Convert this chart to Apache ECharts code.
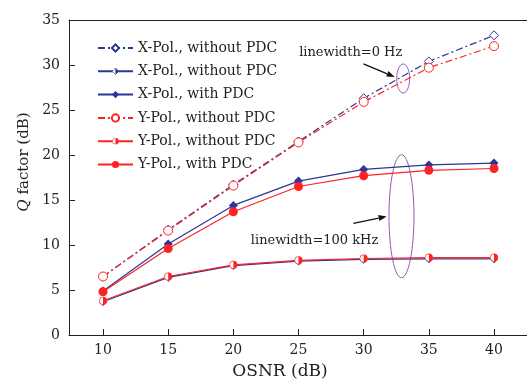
<!DOCTYPE html>
<html>
<head>
<meta charset="utf-8">
<script src="https://cdn.jsdelivr.net/npm/echarts@6/dist/echarts.min.js"></script>
<style>
  html, body { margin: 0; padding: 0; background: #fff; }
  #chart { width: 527px; height: 387px; }
</style>
</head>
<body>
<div id="chart"></div>
<script>
// OSNR (dB) on x, Q factor (dB) on y
const osnr = [10, 15, 20, 25, 30, 35, 40];
const xTicks = [10, 15, 20, 25, 30, 35, 40];

// linewidth = 0 Hz
const xPolNoPdc0 = [6.5, 11.7, 16.7, 21.5, 26.3, 30.4, 33.3];
const yPolNoPdc0 = [6.5, 11.6, 16.6, 21.4, 25.9, 29.7, 32.1];
// linewidth = 100 kHz
const xPolNoPdc100 = [3.7, 6.4, 7.7, 8.2, 8.4, 8.45, 8.45];
const xPolPdc100 = [4.9, 10.1, 14.4, 17.1, 18.4, 18.9, 19.1];
const yPolNoPdc100 = [3.8, 6.5, 7.8, 8.3, 8.5, 8.6, 8.6];
const yPolPdc100 = [4.8, 9.6, 13.7, 16.5, 17.7, 18.3, 18.5];

const BLUE = '#2b3896';
const RED = '#ff2222';
const PURPLE = '#9a55b4';
const FONT = 'DejaVu Serif';

function pairs(vals) {
  return osnr.map((x, i) => [x, vals[i]]);
}

function svgSymbol(svg) {
  return 'image://data:image/svg+xml;utf8,' + encodeURIComponent(svg);
}

// half filled markers (left open, right filled)
const halfDiamond = svgSymbol(
  "<svg xmlns='http://www.w3.org/2000/svg' width='20' height='20' viewBox='0 0 20 20'>" +
  "<polygon points='10,1 1,10 10,19' fill='white'/>" +
  "<polygon points='10,1 19,10 10,19' fill='" + BLUE + "'/>" +
  "<polygon points='10,1 19,10 10,19 1,10' fill='none' stroke='" + BLUE + "' stroke-width='1.6'/></svg>");
const halfCircle = svgSymbol(
  "<svg xmlns='http://www.w3.org/2000/svg' width='20' height='20' viewBox='0 0 20 20'>" +
  "<circle cx='10' cy='10' r='8.5' fill='white'/>" +
  "<path d='M10,1.5 A8.5,8.5 0 0 1 10,18.5 Z' fill='" + RED + "'/>" +
  "<circle cx='10' cy='10' r='8.5' fill='none' stroke='" + RED + "' stroke-width='1.6'/></svg>");

const dashDot = [7, 3, 2, 3];

const chart = echarts.init(document.getElementById('chart'));

const option = {
  animation: false,
  backgroundColor: '#fff',
  grid: {
    left: 69,
    top: 20,
    right: 0,
    bottom: 52,
  },
  legend: {
    orient: 'vertical',
    left: 97,
    top: 41,
    padding: 0,
    itemWidth: 35,
    itemHeight: 9,
    itemGap: 9.3,
    textStyle: { fontFamily: FONT, fontSize: 14, color: '#222' },
  },
  xAxis: [
    {
      type: 'value',
      min: 7.39,
      max: 42.53,
      name: 'OSNR (dB)',
      nameLocation: 'middle',
      nameGap: 28,
      nameTextStyle: { fontFamily: FONT, fontSize: 17, color: '#222', padding: [0, 36, 0, 0] },
      axisLine: { show: true, lineStyle: { color: '#222', width: 1 } },
      axisTick: { inside: true, length: 6, customValues: xTicks, lineStyle: { color: '#222' } },
      axisLabel: { customValues: xTicks, margin: 8, fontFamily: FONT, fontSize: 14, color: '#222' },
      splitLine: { show: false },
    },
    {
      // top frame line only
      type: 'value',
      position: 'top',
      min: 7.39,
      max: 42.53,
      axisLine: { show: true, lineStyle: { color: '#222', width: 1 } },
      axisTick: { show: false },
      axisLabel: { show: false },
      splitLine: { show: false },
    },
  ],
  yAxis: {
    type: 'value',
    min: 0,
    max: 35,
    interval: 5,
    name: '{i|Q} factor (dB)',
    nameLocation: 'middle',
    nameRotate: 90,
    nameGap: 37,
    nameTextStyle: {
      fontFamily: FONT, fontSize: 15, color: '#222', padding: [0, 0, 0, 31],
      rich: { i: { fontFamily: FONT, fontSize: 15, fontStyle: 'italic', color: '#222' } },
    },
    axisLine: { show: true, lineStyle: { color: '#222', width: 1 } },
    axisTick: { inside: true, length: 6, lineStyle: { color: '#222' } },
    axisLabel: { margin: 9, fontFamily: FONT, fontSize: 14, color: '#222' },
    splitLine: { show: false },
  },
  series: [
    {
      name: 'X-Pol., without PDC',
      type: 'line',
      data: pairs(xPolNoPdc0),
      symbol: 'diamond',
      symbolSize: 9,
      itemStyle: { color: '#fff', borderColor: BLUE, borderWidth: 1 },
      lineStyle: { color: BLUE, width: 1.2, type: dashDot },
    },
    {
      name: 'X-Pol., without PDC ',
      type: 'line',
      data: pairs(xPolNoPdc100),
      symbol: halfDiamond,
      symbolSize: 9,
      itemStyle: { color: BLUE },
      lineStyle: { color: BLUE, width: 1.2 },
    },
    {
      name: 'X-Pol., with PDC',
      type: 'line',
      data: pairs(xPolPdc100),
      symbol: 'diamond',
      symbolSize: 9,
      itemStyle: { color: BLUE },
      lineStyle: { color: BLUE, width: 1.2 },
    },
    {
      name: 'Y-Pol., without PDC',
      type: 'line',
      data: pairs(yPolNoPdc0),
      symbol: 'circle',
      symbolSize: 9,
      itemStyle: { color: '#fff', borderColor: RED, borderWidth: 1 },
      lineStyle: { color: RED, width: 1.2, type: dashDot },
    },
    {
      name: 'Y-Pol., without PDC ',
      type: 'line',
      data: pairs(yPolNoPdc100),
      symbol: halfCircle,
      symbolSize: 9,
      itemStyle: { color: RED },
      lineStyle: { color: RED, width: 1.2 },
    },
    {
      name: 'Y-Pol., with PDC',
      type: 'line',
      data: pairs(yPolPdc100),
      symbol: 'circle',
      symbolSize: 9,
      itemStyle: { color: RED },
      lineStyle: { color: RED, width: 1.2 },
    },
  ],
};

chart.setOption(option);

// annotations, placed in data coordinates
const notes = [
  { text: 'linewidth=0 Hz', at: [25.05, 31.37], from: [29.98, 30.12], to: [32.38, 28.68], ellipse: [33.03, 28.5], rx: 6.5, ry: 14.5 },
  { text: 'linewidth=100 kHz', at: [21.34, 10.52], from: [29.21, 12.4], to: [31.76, 13.18], ellipse: [32.9, 13.2], rx: 12.5, ry: 61.5 },
];

function px(p) {
  return chart.convertToPixel({ gridIndex: 0 }, p);
}

const graphics = [];
notes.forEach(n => {
  const t = px(n.at);
  const a = px(n.from);
  const b = px(n.to);
  const c = px(n.ellipse);
  graphics.push({
    type: 'text', x: t[0], y: t[1],
    style: { text: n.text, fontFamily: FONT, fontSize: 13, fill: '#222', verticalAlign: 'middle' },
  });
  const dx = b[0] - a[0], dy = b[1] - a[1];
  const len = Math.sqrt(dx * dx + dy * dy);
  const ux = dx / len, uy = dy / len;
  const hl = 8, hw = 3;
  const bx = b[0] - ux * hl, by = b[1] - uy * hl;
  graphics.push({
    type: 'line',
    shape: { x1: a[0], y1: a[1], x2: bx, y2: by },
    style: { stroke: '#111', lineWidth: 1.3 },
  });
  graphics.push({
    type: 'polygon',
    shape: { points: [[b[0], b[1]], [bx - uy * hw, by + ux * hw], [bx + uy * hw, by - ux * hw]] },
    style: { fill: '#111' },
  });
  graphics.push({
    type: 'ellipse',
    shape: { cx: c[0], cy: c[1], rx: n.rx, ry: n.ry },
    style: { fill: 'none', stroke: PURPLE, lineWidth: 1 },
  });
});

chart.setOption({ graphic: graphics });
</script>
</body>
</html>
